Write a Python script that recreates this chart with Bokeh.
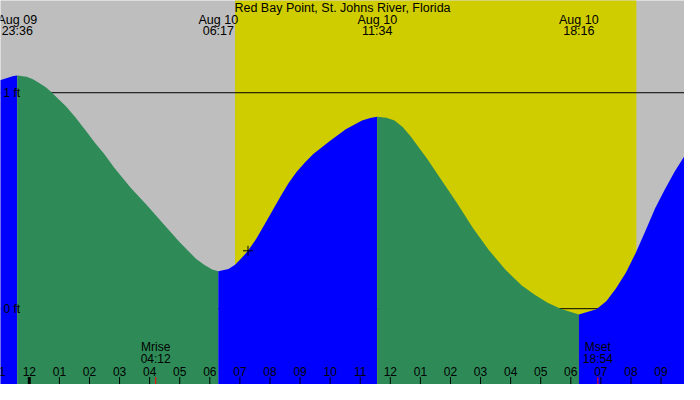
#!/usr/bin/env python3
"""Tide graph for Red Bay Point, St. Johns River, Florida (Aug 09-10)."""

from bokeh.plotting import figure
from bokeh.models import Range1d
from bokeh.embed import file_html
from bokeh.resources import INLINE
from bokeh.core.properties import value

# hours relative to midnight Aug 10, water level in feet
tide_hours = [-1.0, -0.74, -0.53, -0.4, -0.09, 0.12, 0.34, 0.56, 0.72, 0.99,
              1.21, 1.53, 1.86, 2.18, 2.49, 2.83, 3.37, 3.91, 4.46, 5.0,
              5.54, 5.81, 6.08, 6.283, 6.62, 6.84, 7.05, 7.27, 7.54, 7.81,
              8.08, 8.35, 8.62, 8.89, 9.17, 9.44, 9.98, 10.52, 11.06, 11.33,
              11.567, 11.87, 12.14, 12.41, 12.68, 13.23, 13.66, 14.2, 14.74,
              15.28, 15.82, 16.36, 16.8, 17.23, 17.66, 18.267, 18.85, 19.18,
              19.5, 19.83, 20.15, 20.48, 20.8, 21.13, 21.45, 21.8]
tide_feet = [1.057, 1.068, 1.077, 1.080, 1.074, 1.062, 1.044, 1.024, 1.004, 0.968,
             0.938, 0.886, 0.827, 0.768, 0.716, 0.652, 0.56, 0.479, 0.392, 0.308,
             0.231, 0.204, 0.182, 0.173, 0.184, 0.204, 0.233, 0.268, 0.323, 0.387,
             0.453, 0.520, 0.582, 0.634, 0.678, 0.716, 0.775, 0.831, 0.871, 0.883,
             0.889, 0.884, 0.871, 0.841, 0.797, 0.693, 0.604, 0.493, 0.375,
             0.271, 0.182, 0.108, 0.064, 0.027, 0.0, -0.027, -0.003, 0.034,
             0.093, 0.167, 0.256, 0.360, 0.464, 0.553, 0.634, 0.712]

# high / low tides
extreme_hours = [-0.4, 6.283, 11.567, 18.267]
extreme_dates = ["Aug 09", "Aug 10", "Aug 10", "Aug 10"]
extreme_times = ["23:36", "06:17", "11:34", "18:16"]

# daylight
sunrise_hour = 6.84
sunset_hour = 20.18

# moon events
moon_hours = [4.2, 18.9]
moon_names = ["Mrise", "Mset"]
moon_times = ["04:12", "18:54"]

# hour ticks along the bottom
tick_hours = list(range(-1, 22))
tick_labels = ["11", "12", "01", "02", "03", "04", "05", "06", "07", "08",
               "09", "10", "11", "12", "01", "02", "03", "04", "05", "06",
               "07", "08", "09"]

# reference levels
level_feet = [1, 0]
level_labels = ["1 ft", "0 ft"]

# current time marker
now_hour = 7.27
now_feet = 0.268

title = "Red Bay Point, St. Johns River, Florida"

X_LO, X_HI = -0.958, 21.78
Y_LO, Y_HI = -0.351, 1.427

FONT = value("Liberation Sans")
GRAY = "#bebebe"
DAY = "#cfcc00"
FLOOD = "#0000ff"
EBB = "#2e8b57"

p = figure(
    width=684, height=384,
    x_range=Range1d(X_LO, X_HI), y_range=Range1d(Y_LO, Y_HI),
    x_axis_type=None, y_axis_type=None,
    toolbar_location=None, output_backend="svg",
    min_border=0, background_fill_color=GRAY, border_fill_color=GRAY,
)
p.outline_line_color = None
p.grid.visible = False

# daylight band
p.quad(left=[sunrise_hour], right=[sunset_hour], bottom=Y_LO - 1, top=Y_HI + 1,
       fill_color=DAY, line_color=None)

# reference lines (hidden under the water)
p.segment(x0=X_LO, x1=X_HI, y0=level_feet, y1=level_feet,
          line_color="black", line_width=1)

# water: blue while rising, green while falling
bounds = [tide_hours[0]] + extreme_hours + [tide_hours[-1]]
for i in range(len(bounds) - 1):
    xs = [h for h in tide_hours if bounds[i] <= h <= bounds[i + 1]]
    ys = [f for h, f in zip(tide_hours, tide_feet) if bounds[i] <= h <= bounds[i + 1]]
    p.varea(x=xs, y1=Y_LO - 1, y2=ys, fill_color=FLOOD if i % 2 == 0 else EBB)

p.scatter(x=[now_hour], y=[now_feet], marker="cross", size=10,
          line_color="black", line_width=1)

# level labels
p.text(x=X_LO + 0.1, y=level_feet, text=level_labels, text_font=FONT,
       text_font_size="12px", text_align="left", text_baseline="middle",
       text_color="black")

# title and tide event labels
p.text(x=[(X_LO + X_HI) / 2], y=1.392, text=[title], text_font=FONT,
       text_font_size="12.5px", text_align="center", text_baseline="middle",
       text_color="black")
p.text(x=extreme_hours, y=1.335, text=extreme_dates, text_font=FONT,
       text_font_size="12.5px", text_align="center", text_baseline="middle",
       text_color="black")
p.text(x=extreme_hours, y=1.284, text=extreme_times, text_font=FONT,
       text_font_size="12.5px", text_align="center", text_baseline="middle",
       text_color="black")

# moon labels
p.text(x=moon_hours, y=-0.178, text=moon_names, text_font=FONT,
       text_font_size="12px", text_align="center", text_baseline="middle",
       text_color="black")
p.text(x=moon_hours, y=-0.231, text=moon_times, text_font=FONT,
       text_font_size="12px", text_align="center", text_baseline="middle",
       text_color="black")

# hour ticks
tick_widths = [3 if h % 24 == 0 else 1 for h in tick_hours]
p.segment(x0=tick_hours, x1=tick_hours, y0=-0.316, y1=Y_LO,
          line_color="black", line_width=tick_widths)
p.segment(x0=moon_hours, x1=moon_hours, y0=-0.316, y1=Y_LO,
          line_color="red", line_width=1)
p.text(x=tick_hours, y=-0.289, text=tick_labels, text_font=FONT,
       text_font_size="12px", text_align="center", text_baseline="middle",
       text_color="black")

open("out.html", "w").write(file_html(p, INLINE))
